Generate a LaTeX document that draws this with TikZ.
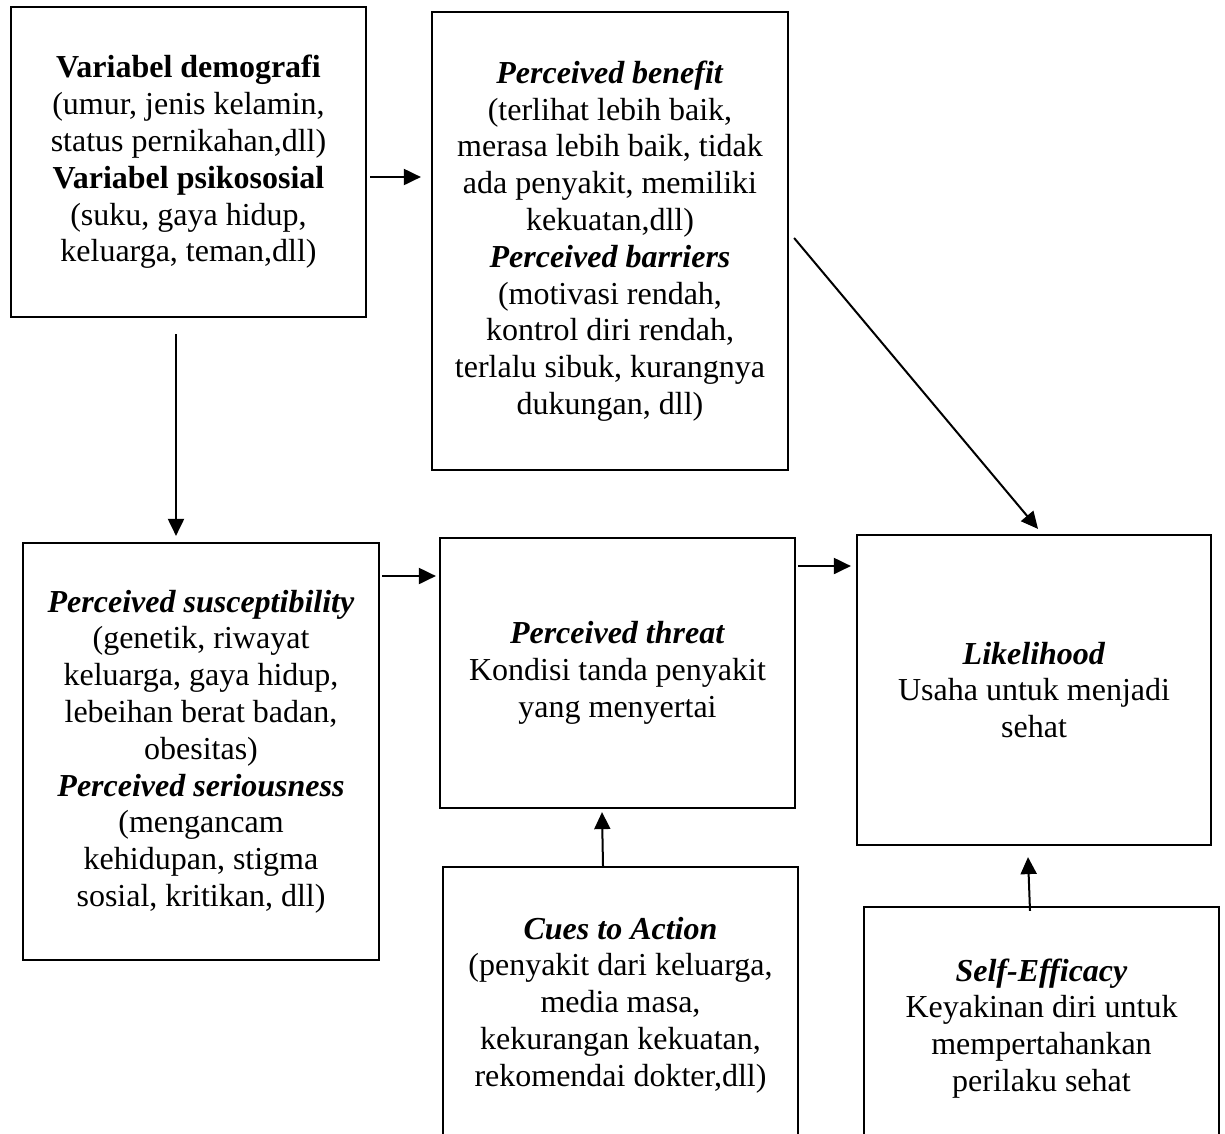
\documentclass[tikz,border=0pt]{standalone}
\usepackage{fontspec}
\setmainfont{Liberation Serif}
\usetikzlibrary{arrows.meta}
\tikzset{
  box/.style={draw, line width=2.2pt, inner sep=0pt, align=center,
    font=\fontsize{32pt}{36.8pt}\selectfont},
  arr/.style={line width=2pt, -{Triangle[length=17pt,width=16pt]}}
}
\newcommand{\hd}[1]{\textbf{\textit{#1}}}
\begin{document}
\begin{tikzpicture}[x=1pt,y=1pt]
\clip (0,0) rectangle (1225,-1133);
\fill[white] (0,0) rectangle (1225,-1133);

\node[box, minimum width=355pt, minimum height=310pt] (demo) at (188.5,-162)
  {\textbf{Variabel demografi}\\(umur, jenis kelamin,\\status pernikahan,dll)\\\textbf{Variabel psikososial}\\(suku, gaya hidup,\\keluarga, teman,dll)};

\node[box, minimum width=356pt, minimum height=458pt] (ben) at (610,-241)
  {\hd{Perceived benefit}\\(terlihat lebih baik,\\merasa lebih baik, tidak\\ada penyakit, memiliki\\kekuatan,dll)\\\hd{Perceived barriers}\\(motivasi rendah,\\kontrol diri rendah,\\terlalu sibuk, kurangnya\\dukungan, dll)};

\node[box, minimum width=356pt, minimum height=417pt] (susc) at (201,-751.5)
  {\hd{Perceived susceptibility}\\(genetik, riwayat\\keluarga, gaya hidup,\\lebeihan berat badan,\\obesitas)\\\hd{Perceived seriousness}\\(mengancam\\kehidupan, stigma\\sosial, kritikan, dll)};

\node[box, minimum width=355pt, minimum height=270pt] (threat) at (617.5,-673)
  {\hd{Perceived threat}\\Kondisi tanda penyakit\\yang menyertai};

\node[box, minimum width=354pt, minimum height=310pt] (like) at (1034,-690)
  {\hd{Likelihood}\\Usaha untuk menjadi\\sehat};

\node[box, minimum width=355pt, minimum height=276pt] (cues) at (620.5,-1005)
  {\hd{Cues to Action}\\(penyakit dari keluarga,\\media masa,\\kekurangan kekuatan,\\rekomendai dokter,dll)};

\node[box, minimum width=355pt, minimum height=243pt] (self) at (1041.5,-1028.5)
  {\hd{Self-Efficacy}\\Keyakinan diri untuk\\mempertahankan\\perilaku sehat};

\draw[arr, shorten <=3pt, shorten >=10pt]
  ([yshift=-15pt]demo.east) -- ([yshift=-15pt]demo.east -| ben.west);
\draw[arr, shorten <=16pt, shorten >=6pt]
  ([xshift=-12.5pt]demo.south) -- ([xshift=-12.5pt]demo.south |- susc.north);
\draw[arr]
  ([shift={(5pt,3pt)}]ben.east) -- ([shift={(4pt,5pt)}]like.north);
\draw[arr, shorten <=2pt, shorten >=3pt]
  ([yshift=175.5pt]susc.east) -- ([yshift=175.5pt]susc.east -| threat.west);
\draw[arr, shorten <=2pt, shorten >=5pt]
  ([yshift=107pt]threat.east) -- ([yshift=107pt]threat.east -| like.west);
\draw[arr]
  ([xshift=-17.5pt]cues.north) -- ([shift={(-15.5pt,-3pt)}]threat.south);
\draw[arr]
  ([shift={(-11.5pt,-5pt)}]self.north) -- ([shift={(-6pt,-11pt)}]like.south);
\end{tikzpicture}
\end{document}
